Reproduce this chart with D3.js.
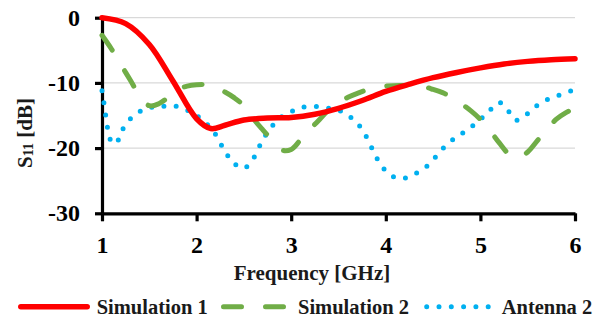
<!DOCTYPE html>
<html>
<head>
<meta charset="utf-8">
<script src="https://cdn.jsdelivr.net/npm/d3@7"></script>
<style>
  body { margin: 0; background: #fff; }
  svg { display: block; font-family: "Liberation Serif", "Times New Roman", serif; font-weight: bold; }
</style>
</head>
<body>
<div id="chart"></div>
<script>
// Simulation 1 (solid red)
const freqSim1 = [1.0, 1.25, 1.5, 1.75, 2.0, 2.15, 2.3, 2.5, 2.75, 3.0, 3.25, 3.5, 3.75, 4.0, 4.25, 4.5, 4.75, 5.0, 5.25, 5.5, 5.75, 6.0];
const s11Sim1 = [0, -0.9, -4.1, -9.7, -15.5, -17.0, -16.5, -15.7, -15.4, -15.3, -14.8, -13.9, -12.7, -11.3, -10.2, -9.2, -8.4, -7.7, -7.1, -6.7, -6.45, -6.3];

// Simulation 2 (green dashes)
const freqSim2 = [1.0, 1.1, 1.2, 1.3, 1.4, 1.5, 1.6, 1.7, 1.8, 1.9, 2.0, 2.1, 2.2, 2.3, 2.4, 2.5, 2.6, 2.7, 2.8, 2.9, 3.0, 3.1, 3.2, 3.3, 3.4, 3.5, 3.6, 3.7, 3.8, 4.0, 4.2, 4.4, 4.5, 4.6, 4.7, 4.8, 4.9, 5.0, 5.1, 5.2, 5.3, 5.4, 5.5, 5.6, 5.7, 5.8, 5.9, 6.0];
const s11Sim2 = [-2.7, -4.8, -7.2, -9.6, -12.0, -13.5, -13.2, -12.2, -11.0, -10.5, -10.3, -10.3, -10.7, -11.4, -12.3, -13.5, -15.5, -17.2, -18.8, -20.3, -20.2, -18.7, -17.1, -15.6, -14.1, -13.0, -12.2, -11.6, -11.1, -10.5, -10.4, -10.6, -11.0, -11.5, -12.2, -13.2, -14.3, -15.6, -17.3, -19.2, -20.9, -21.5, -20.6, -18.9, -17.2, -15.6, -14.6, -13.9];

// Antenna 2 (blue dots)
const freqAnt2 = [1.0, 1.03, 1.06, 1.1, 1.15, 1.2, 1.3, 1.4, 1.5, 1.6, 1.75, 1.9, 2.0, 2.1, 2.2, 2.3, 2.4, 2.5, 2.6, 2.7, 2.8, 2.9, 3.0, 3.1, 3.25, 3.4, 3.5, 3.6, 3.7, 3.8, 3.9, 4.0, 4.1, 4.2, 4.3, 4.4, 4.5, 4.6, 4.7, 4.8, 4.9, 5.0, 5.1, 5.2, 5.3, 5.37, 5.45, 5.55, 5.7, 5.85, 6.0];
const s11Ant2 = [-11.2, -14.0, -17.0, -19.0, -19.3, -17.6, -15.5, -14.4, -13.8, -13.7, -13.5, -14.2, -15.0, -16.2, -17.9, -20.5, -22.4, -23.1, -21.6, -18.7, -16.6, -15.2, -14.4, -13.8, -13.6, -13.9, -14.2, -15.0, -16.2, -18.4, -21.4, -23.5, -24.5, -24.6, -24.0, -23.2, -21.8, -20.1, -18.8, -17.8, -16.8, -15.6, -14.2, -13.0, -14.4, -15.7, -15.3, -14.0, -12.6, -11.8, -11.0];

const seriesNames = ["Simulation 1", "Simulation 2", "Antenna 2"];
const xTicks = [1, 2, 3, 4, 5, 6];
const yTicks = [0, -10, -20, -30];
const xTitle = "Frequency [GHz]";

const width = 603, height = 318;

const svg = d3.select("#chart").append("svg")
  .attr("width", width)
  .attr("height", height);

const x = d3.scaleLinear().domain([1, 6]).range([102, 575]);
const y = d3.scaleLinear().domain([-30, 0]).range([213.3, 17.7]);

// gridlines
svg.append("g")
  .selectAll("line")
  .data(yTicks.filter(d => d !== -30))
  .enter().append("line")
  .attr("x1", x(1)).attr("x2", x(6))
  .attr("y1", d => y(d)).attr("y2", d => y(d))
  .attr("stroke", "#d9d9d9")
  .attr("stroke-width", 1.2);

// axes
const yAxis = svg.append("g")
  .attr("transform", `translate(${x(1)},0)`)
  .call(d3.axisLeft(y).tickValues(yTicks).tickSize(7).tickSizeOuter(0).tickPadding(15).tickFormat(d => String(d)));

const xAxis = svg.append("g")
  .attr("transform", `translate(0,${y(-30)})`)
  .call(d3.axisBottom(x).tickValues(xTicks).tickSize(8).tickSizeOuter(0).tickPadding(15).tickFormat(d => String(d)));

[yAxis, xAxis].forEach(g => {
  g.attr("font-family", '"Liberation Serif", "Times New Roman", serif');
  g.select(".domain").attr("stroke", "#000").attr("stroke-width", 3.2);
  g.selectAll(".tick line").attr("stroke", "#000").attr("stroke-width", 3.2);
  g.selectAll(".tick text")
    .attr("fill", "#000")
    .style("font-weight", "bold")
    .style("font-size", "24px");
});

// axis titles
svg.append("text")
  .attr("x", 312)
  .attr("y", 280)
  .attr("text-anchor", "middle")
  .attr("font-size", 21)
  .attr("fill", "#1a1a1a")
  .text(xTitle);

const yt = svg.append("text")
  .attr("transform", "translate(32,133) rotate(-90)")
  .attr("text-anchor", "middle")
  .attr("font-size", 21)
  .attr("fill", "#1a1a1a");
yt.append("tspan").text("S");
yt.append("tspan").attr("font-size", 14).attr("dy", 1).text("11");
yt.append("tspan").attr("dy", -1).text(" [dB]");

// series
const line = d3.line()
  .x(d => x(d[0]))
  .y(d => y(d[1]))
  .curve(d3.curveCatmullRom.alpha(0.5));

const series = [
  { name: seriesNames[0], pts: d3.zip(freqSim1, s11Sim1), color: "#ff0000", w: 5.5, dash: null },
  { name: seriesNames[1], pts: d3.zip(freqSim2, s11Sim2), color: "#70ad47", w: 5, dash: "18 24" },
  { name: seriesNames[2], pts: d3.zip(freqAnt2, s11Ant2), color: "#00b0f0", w: 5, dash: "0 12.3" }
];

// blue first, then green, red on top
[series[2], series[1], series[0]].forEach(s => {
  svg.append("path")
    .datum(s.pts)
    .attr("d", line)
    .attr("fill", "none")
    .attr("stroke", s.color)
    .attr("stroke-width", s.w)
    .attr("stroke-linecap", "round")
    .attr("stroke-linejoin", "round")
    .attr("stroke-dasharray", s.dash);
});

// legend
const legendY = 306.7;
const legendPos = [
  { x1: 20.8, x2: 87.2, tx: 96.7 },
  { x1: 223.5, x2: 284.5, tx: 298 },
  { x1: 426.7, x2: 488.3, tx: 501.7 }
];
const legend = svg.append("g");
series.forEach((s, i) => {
  const p = legendPos[i];
  legend.append("line")
    .attr("x1", p.x1).attr("x2", p.x2)
    .attr("y1", legendY).attr("y2", legendY)
    .attr("stroke", s.color)
    .attr("stroke-width", s.w)
    .attr("stroke-linecap", "round")
    .attr("stroke-dasharray", s.dash);
  legend.append("text")
    .attr("x", p.tx)
    .attr("y", 313.5)
    .attr("font-size", 20.5)
    .attr("fill", "#1a1a1a")
    .text(s.name);
});
</script>
</body>
</html>
